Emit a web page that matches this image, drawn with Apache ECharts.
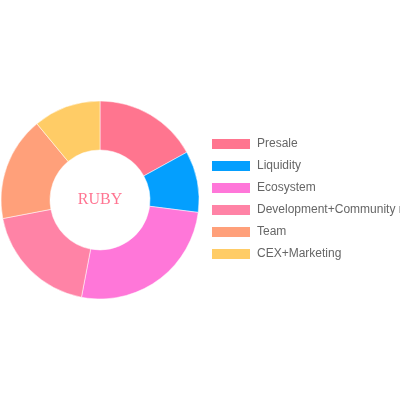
<!DOCTYPE html>
<html><head><meta charset="utf-8">
<script src="https://cdn.jsdelivr.net/npm/echarts@6/dist/echarts.min.js"></script>
<style>html,body{margin:0;padding:0;background:#fff}#c{width:400px;height:400px}</style>
</head><body><div id="c"></div>
<script>
const categories = ["Presale", "Liquidity", "Ecosystem", "Development+Community rewards", "Team", "CEX+Marketing"];
const values = [17, 10, 26, 19, 17, 11];
const colors = ["#ff758f", "#049ffe", "#ff77d9", "#ff83a6", "#ffa07a", "#ffcc66"];
const centerLabel = "RUBY";

const chart = echarts.init(document.getElementById('c'), null, {renderer: 'canvas'});
chart.setOption({
  animation: false,
  color: colors,
  graphic: [{
    type: 'text', x: 100, y: 199.5,
    style: {text: centerLabel, align: 'center', verticalAlign: 'middle',
      font: '16px "Liberation Serif", serif', fill: '#ff7592'}
  }],
  legend: {
    orient: 'vertical', left: 210, top: 137, padding: 0,
    itemWidth: 40, itemHeight: 12, itemGap: 8, icon: 'rect',
    textStyle: {fontFamily: 'Liberation Sans, Arial, sans-serif', fontSize: 12, color: '#666', padding: [0, 0, 0, 1]},
    data: categories
  },
  series: [{
    type: 'pie', center: [100, 200], radius: [50, 99], startAngle: 90, clockwise: true,
    label: {show: false}, labelLine: {show: false},
    itemStyle: {borderColor: '#fff', borderWidth: 0.5},
    emphasis: {disabled: true},
    data: categories.map((n, i) => ({name: n, value: values[i]}))
  }]
});
</script></body></html>
